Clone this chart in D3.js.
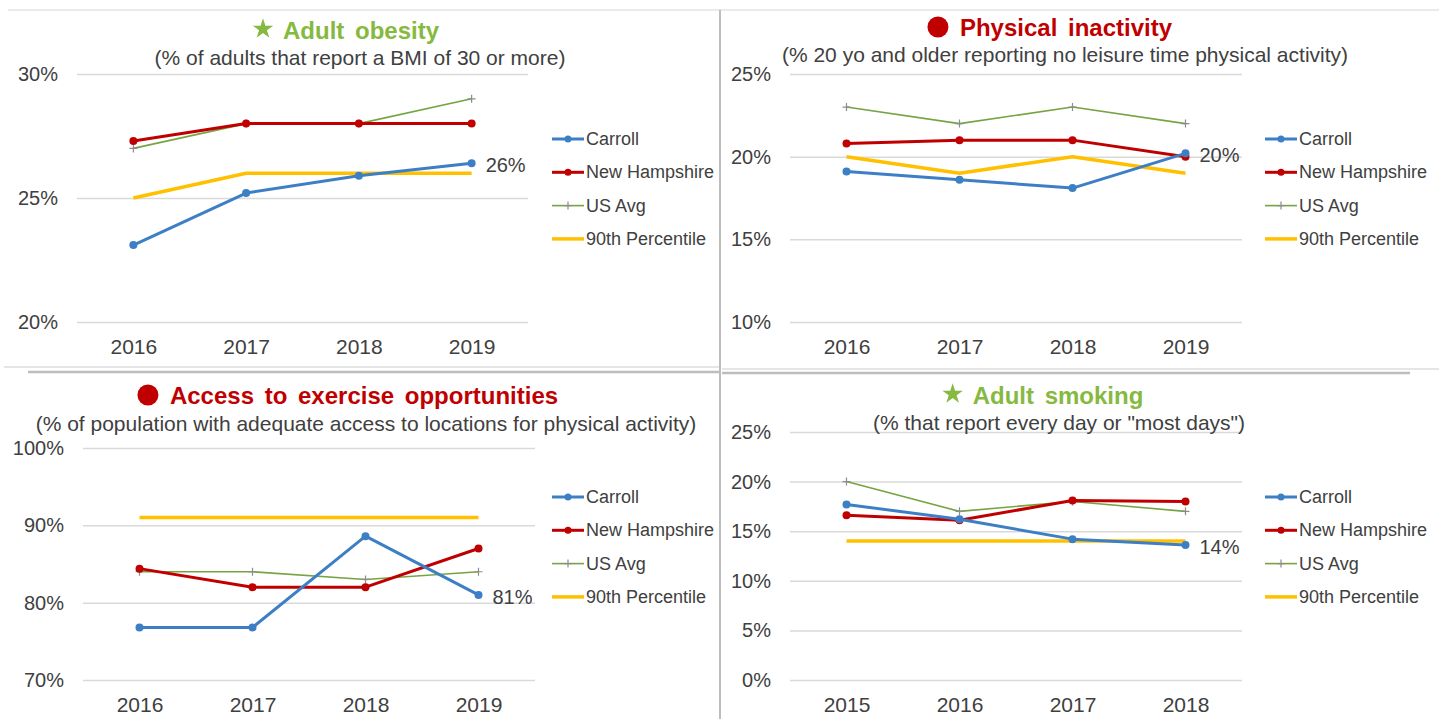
<!DOCTYPE html>
<html>
  <head>
    <meta charset="UTF-8" />
    <title>Carroll County health indicators</title>
    <script src="https://d3js.org/d3.v7.min.js"></script>
    <style>
      body {
        margin: 0;
        background: #fff;
        font-family: 'Liberation Sans', Arial, sans-serif;
      }
      .grid line {
        stroke: #d9d9d9;
        stroke-width: 1.5px;
      }
      .grid text,
      .xaxis text {
        fill: #404040;
        font-size: 20px;
        font-family: 'Liberation Sans', Arial, sans-serif;
      }
      .xaxis text {
        font-size: 21px;
      }
      .legend text {
        fill: #404040;
        font-size: 18px;
      }
      .subtitle {
        fill: #404040;
        font-size: 21px;
      }
      .title {
        font-size: 24px;
        font-weight: bold;
      }
    </style>
  </head>
  <body>
    <svg id="chart" width="1439" height="719"></svg>

    <script>
      // series names, in legend order
      var seriesNames = ['Carroll', 'New Hampshire', 'US Avg', '90th Percentile'];

      // Adult obesity
      var obesityYears = ['2016', '2017', '2018', '2019'];
      var obesityTicks = [20, 25, 30];
      var obesityCarroll = [23.1, 25.2, 25.9, 26.4];
      var obesityNH = [27.3, 28, 28, 28];
      var obesityUS = [27, 28, 28, 29];
      var obesityP90 = [25, 26, 26, 26];

      // Physical inactivity
      var inactivityYears = ['2016', '2017', '2018', '2019'];
      var inactivityTicks = [10, 15, 20, 25];
      var inactivityCarroll = [19.1, 18.6, 18.1, 20.2];
      var inactivityNH = [20.8, 21, 21, 20];
      var inactivityUS = [23, 22, 23, 22];
      var inactivityP90 = [20, 19, 20, 19];

      // Access to exercise opportunities
      var accessYears = ['2016', '2017', '2018', '2019'];
      var accessTicks = [70, 80, 90, 100];
      var accessCarroll = [76.8, 76.8, 88.6, 81];
      var accessNH = [84.4, 82, 82, 87];
      var accessUS = [84, 84, 83, 84];
      var accessP90 = [91, 91, 91, 91];

      // Adult smoking
      var smokingYears = ['2015', '2016', '2017', '2018'];
      var smokingTicks = [0, 5, 10, 15, 20, 25];
      var smokingCarroll = [17.7, 16.2, 14.2, 13.6];
      var smokingNH = [16.6, 16.1, 18.1, 18];
      var smokingUS = [20, 17, 18, 17];
      var smokingP90 = [14, 14, 14, 14];

      // styles per series
      var colors = ['#3d7fc5', '#c00000', '#77a443', '#ffc000'];
      var widths = [3, 3, 1.6, 3.5];
      var markers = ['dot', 'dot', 'plus', 'none'];

      var svg = d3.select('#chart');

      // frame lines between the four panels
      var frame = svg.append('g').attr('stroke-linecap', 'butt');
      frame.append('line').attr('x1', 8).attr('x2', 1439).attr('y1', 10).attr('y2', 10)
        .attr('stroke', '#e3e3e3').attr('stroke-width', 1.5);
      frame.append('line').attr('x1', 4).attr('x2', 720).attr('y1', 367).attr('y2', 367)
        .attr('stroke', '#dcdcdc').attr('stroke-width', 1.5);
      frame.append('line').attr('x1', 28).attr('x2', 720).attr('y1', 372).attr('y2', 372)
        .attr('stroke', '#bdbdbd').attr('stroke-width', 2.5);
      frame.append('line').attr('x1', 722).attr('x2', 1439).attr('y1', 369).attr('y2', 369)
        .attr('stroke', '#dcdcdc').attr('stroke-width', 1.5);
      frame.append('line').attr('x1', 722).attr('x2', 1410).attr('y1', 373).attr('y2', 373)
        .attr('stroke', '#bdbdbd').attr('stroke-width', 2.5);
      frame.append('line').attr('x1', 720).attr('x2', 720).attr('y1', 10).attr('y2', 719)
        .attr('stroke', '#bdbdbd').attr('stroke-width', 2);

      var panels = [
        {
          title: 'Adult obesity', icon: 'star', titleColor: '#86b940',
          subtitle: '(% of adults that report a BMI  of 30 or more)',
          years: obesityYears, ticks: obesityTicks,
          values: [obesityCarroll, obesityNH, obesityUS, obesityP90],
          x0: 77, x1: 528, yTop: 74, yBot: 322,
          titleX: 347, titleY: 39, subX: 360, subY: 65,
          legendX: 552, legendY: 139
        },
        {
          title: 'Physical inactivity', icon: 'dot', titleColor: '#c00000',
          subtitle: '(% 20 yo and older reporting no leisure time physical activity)',
          years: inactivityYears, ticks: inactivityTicks,
          values: [inactivityCarroll, inactivityNH, inactivityUS, inactivityP90],
          x0: 790, x1: 1242, yTop: 74, yBot: 322,
          titleX: 1052, titleY: 36, subX: 1065, subY: 62,
          legendX: 1265, legendY: 139
        },
        {
          title: 'Access to exercise opportunities', icon: 'dot', titleColor: '#c00000',
          subtitle: '(% of population with adequate access to locations for physical activity)',
          years: accessYears, ticks: accessTicks,
          values: [accessCarroll, accessNH, accessUS, accessP90],
          x0: 83, x1: 535, yTop: 448, yBot: 680,
          titleX: 350, titleY: 404, subX: 366, subY: 431,
          legendX: 552, legendY: 497
        },
        {
          title: 'Adult smoking', icon: 'star', titleColor: '#86b940',
          subtitle: '(% that report every day or "most days")',
          years: smokingYears, ticks: smokingTicks,
          values: [smokingCarroll, smokingNH, smokingUS, smokingP90],
          x0: 790, x1: 1242, yTop: 432, yBot: 680,
          titleX: 1044, titleY: 404, subX: 1059, subY: 430,
          legendX: 1265, legendY: 497
        }
      ];

      panels.forEach(function (p) {
        var g = svg.append('g');

        var x = d3.scalePoint().domain(p.years).range([p.x0, p.x1]).padding(0.5);
        var y = d3
          .scaleLinear()
          .domain(d3.extent(p.ticks))
          .range([p.yBot, p.yTop]);

        // gridlines + y labels
        var grid = g
          .append('g')
          .attr('class', 'grid')
          .attr('transform', 'translate(' + p.x0 + ',0)')
          .call(
            d3.axisLeft(y)
              .tickValues(p.ticks)
              .tickSize(-(p.x1 - p.x0))
              .tickPadding(19)
              .tickFormat(function (d) { return d + '%'; })
          );
        grid.select('.domain').remove();

        // x labels
        var xa = g
          .append('g')
          .attr('class', 'xaxis')
          .attr('transform', 'translate(0,' + p.yBot + ')')
          .call(d3.axisBottom(x).tickSize(0).tickPadding(17));
        xa.select('.domain').remove();

        // title with its icon
        var tg = g.append('g').attr('transform', 'translate(' + p.titleX + ',' + p.titleY + ')');
        var tt = tg
          .append('text')
          .attr('class', 'title')
          .attr('fill', p.titleColor)
          .attr('text-anchor', 'middle')
          .attr('x', 14)
          .attr('word-spacing', '4px')
          .text(p.title);
        var tw = tt.node().getComputedTextLength();
        var ix = 14 - tw / 2 - 20;
        if (p.icon === 'star') {
          tg.append('path')
            .attr('d', d3.symbol(d3.symbolStar, 130)())
            .attr('transform', 'translate(' + ix + ',-10)')
            .attr('fill', p.titleColor);
        } else {
          tg.append('circle')
            .attr('cx', ix - 2)
            .attr('cy', -9)
            .attr('r', 10.5)
            .attr('fill', p.titleColor);
        }

        g.append('text')
          .attr('class', 'subtitle')
          .attr('x', p.subX)
          .attr('y', p.subY)
          .attr('text-anchor', 'middle')
          .text(p.subtitle);

        // lines, drawn back to front so Carroll sits on top
        var line = d3.line()
          .x(function (d, i) { return x(p.years[i]); })
          .y(function (d) { return y(d); });

        [3, 2, 1, 0].forEach(function (s) {
          var vals = p.values[s];
          g.append('path')
            .datum(vals)
            .attr('d', line)
            .attr('fill', 'none')
            .attr('stroke', colors[s])
            .attr('stroke-width', widths[s])
            .attr('stroke-linejoin', 'round');

          if (markers[s] === 'dot') {
            g.selectAll(null)
              .data(vals)
              .enter()
              .append('circle')
              .attr('cx', function (d, i) { return x(p.years[i]); })
              .attr('cy', function (d) { return y(d); })
              .attr('r', 4)
              .attr('fill', colors[s]);
          } else if (markers[s] === 'plus') {
            g.selectAll(null)
              .data(vals)
              .enter()
              .append('path')
              .attr('d', 'M-4,0H4M0,-4V4')
              .attr('transform', function (d, i) {
                return 'translate(' + x(p.years[i]) + ',' + y(d) + ')';
              })
              .attr('stroke', '#8c8c8c')
              .attr('stroke-width', 1.2);
          }
        });

        // label on Carroll's last point
        var last = p.values[0][p.values[0].length - 1];
        g.append('text')
          .attr('x', x(p.years[p.years.length - 1]) + 14)
          .attr('y', y(last) + 2)
          .attr('dominant-baseline', 'central')
          .attr('fill', '#404040')
          .attr('font-size', 20)
          .text(Math.round(last) + '%');

        // legend
        var lg = g.append('g').attr('class', 'legend');
        seriesNames.forEach(function (name, s) {
          var ly = p.legendY + s * 33.3;
          lg.append('line')
            .attr('x1', p.legendX)
            .attr('x2', p.legendX + 32)
            .attr('y1', ly)
            .attr('y2', ly)
            .attr('stroke', colors[s])
            .attr('stroke-width', widths[s]);
          if (markers[s] === 'dot') {
            lg.append('circle')
              .attr('cx', p.legendX + 16)
              .attr('cy', ly)
              .attr('r', 3.5)
              .attr('fill', colors[s]);
          } else if (markers[s] === 'plus') {
            lg.append('path')
              .attr('d', 'M-4,0H4M0,-4V4')
              .attr('transform', 'translate(' + (p.legendX + 16) + ',' + ly + ')')
              .attr('stroke', '#8c8c8c')
              .attr('stroke-width', 1.2);
          }
          lg.append('text')
            .attr('x', p.legendX + 34)
            .attr('y', ly)
            .attr('dominant-baseline', 'central')
            .text(name);
        });
      });
    </script>
  </body>
</html>
